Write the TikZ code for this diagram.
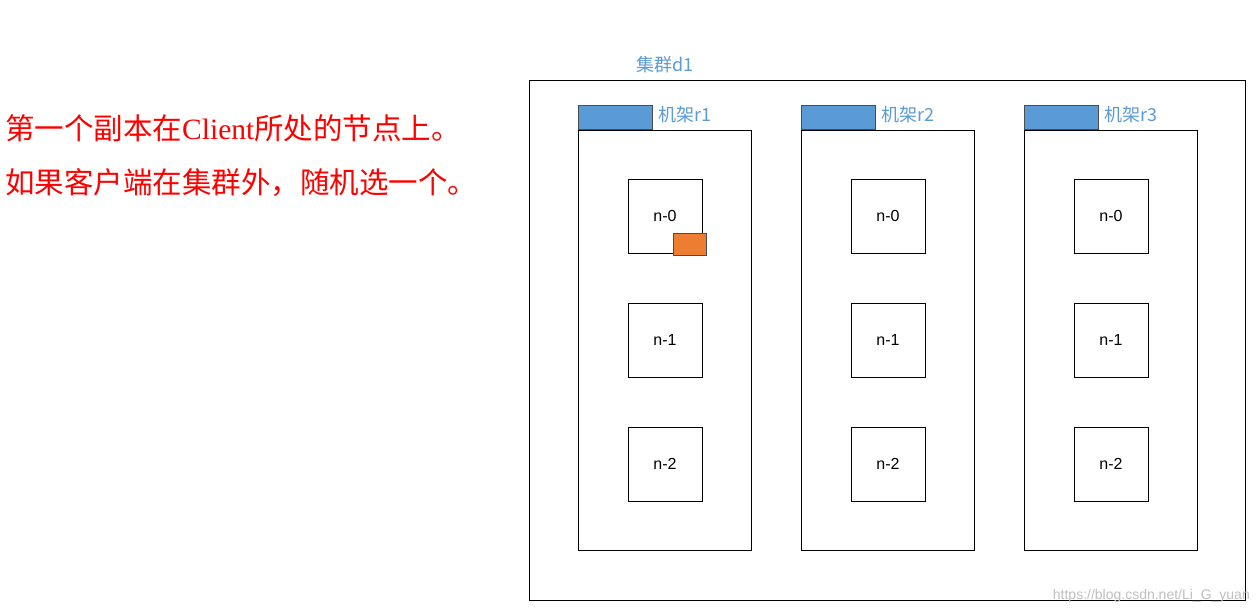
\documentclass[tikz,border=0pt]{standalone}
\usepackage{fontspec}
\setmainfont{Liberation Sans}
\newfontfamily\cjk{Noto Sans CJK SC}
\newfontfamily\serif{Liberation Serif}
\definecolor{myblue}{HTML}{5B9BD5}
\definecolor{myorange}{HTML}{ED7D31}
\begin{document}
\begin{tikzpicture}[x=1pt,y=-1pt,
  box/.style={draw=black,line width=1pt},
  nd/.style={draw=black,line width=1pt,minimum width=74pt,minimum height=74pt,inner sep=0pt,font=\fontsize{16}{18}\selectfont},
  tab/.style={draw=black!70,line width=0.8pt,fill=myblue},
  lbl/.style={text=myblue,font=\cjk\fontsize{18}{20}\selectfont,anchor=west,inner sep=0pt}]
\useasboundingbox (0,0) rectangle (1256,613);
\fill[white] (0,0) rectangle (1256,613);
\node[box,minimum width=716pt,minimum height=520pt,inner sep=0pt,anchor=north west] (cl) at (529,80) {};
\node[lbl] (cll) at (636,65) {集群d1};
\foreach \i/\x in {1/578,2/801,3/1024}{
  \node[box,minimum width=173pt,minimum height=420pt,inner sep=0pt,anchor=north west] (r\i) at (\x,130) {};
  \node[tab,minimum width=74pt,minimum height=24pt,inner sep=0pt,anchor=south west] (t\i) at (\x,130) {};
  \node[lbl] (rl\i) at (\x+80,115) {机架r\i};
  \foreach \j/\y in {0/216,1/340,2/464}{
    \node[nd] (n\i\j) at (\x+87,\y) {n-\j};
  }
}
\node[draw=black!70,fill=myorange,line width=0.8pt,minimum width=33pt,minimum height=22pt,inner sep=0pt] (rep) at (689.5,244) {};
\node[anchor=west,text=red,font=\cjk\fontsize{29.5}{32}\selectfont,inner sep=0pt] (t1) at (5,128) {第一个副本在{\serif Client}所处的节点上。};
\node[anchor=west,text=red,font=\cjk\fontsize{29.5}{32}\selectfont,inner sep=0pt] (t2) at (5,183) {如果客户端在集群外，随机选一个。};
\node[anchor=east,text=black!25,font=\fontsize{14}{16}\selectfont,inner sep=0pt] (wm) at (1250,596) {https://blog.csdn.net/Li\_G\_yuan};
\end{tikzpicture}
\end{document}
